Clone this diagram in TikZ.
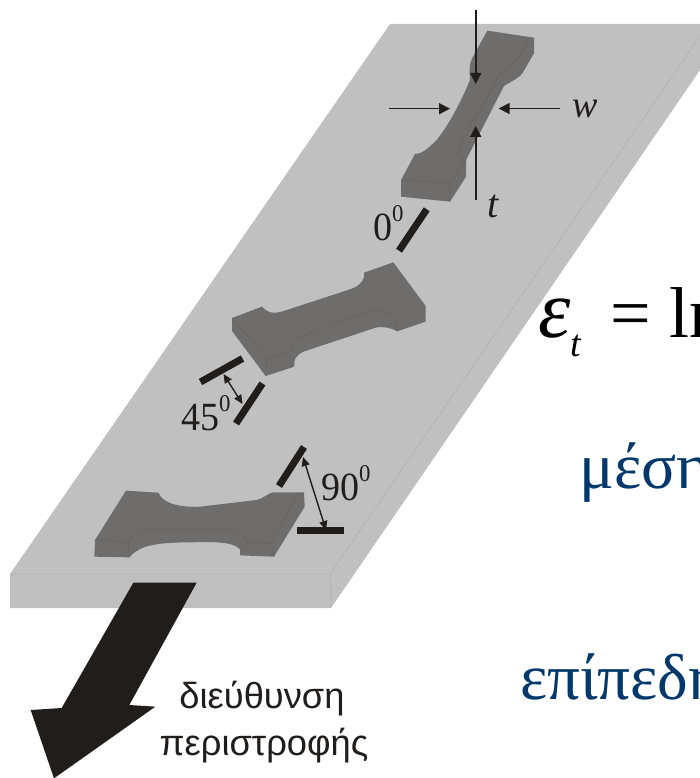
\documentclass[tikz,border=0pt]{standalone}
\usepackage{fontspec}
\setmainfont{Liberation Serif}
\newfontfamily\sansgr{Liberation Sans}
\usetikzlibrary{arrows.meta}
\definecolor{plate}{RGB}{192,192,192}
\definecolor{plateline}{RGB}{176,176,176}
\definecolor{spec}{RGB}{110,109,107}
\definecolor{specline}{RGB}{98,97,95}
\definecolor{ink}{RGB}{33,29,27}
\definecolor{navy}{RGB}{0,56,107}
\tikzset{
  platebody/.style={fill=plate,draw=none},
  plateedge/.style={draw=plateline,line width=0.5pt},
  specbody/.style={fill=spec,draw=none},
  specedge/.style={draw=specline,line width=0.4pt},
  bar/.style={draw=ink,line width=7pt},
  dimarrow/.style={draw=ink,line width=1.6pt,-{Triangle[length=11pt,width=11pt]}},
  twoway/.style={draw=ink,line width=1.4pt,{Triangle[length=9pt,width=8pt]}-{Triangle[length=9pt,width=8pt]}},
  serifl/.style={inner sep=0pt,anchor=base west,text=ink},
  numl/.style={inner sep=0pt,anchor=base west,text=ink,xscale=0.95,font=\fontsize{40}{40}\selectfont},
  navyl/.style={inner sep=0pt,anchor=base west,text=navy,font=\fontsize{65}{65}\selectfont},
  sansl/.style={inner sep=0pt,anchor=base,text=ink,font=\sansgr\fontsize{36.3}{36.3}\selectfont},
  zone/.style={x=0.33333pt,y=-0.33333pt}
}
\newcommand{\supzero}{\raisebox{19pt}{\fontsize{24}{24}\selectfont 0}}
\begin{document}
\begin{tikzpicture}[x=1pt,y=-1pt]
\useasboundingbox (0,0) rectangle (700,778);
\fill[white] (0,0) rectangle (700,778);
% plate
\path[platebody] (390,24) -- (700,24) -- (700,70) -- (331,608) -- (10,608) -- (10,574) -- cycle;
\draw[plateedge] (10,574) -- (330,574) -- (700,36);
\draw[plateedge] (330,574) -- (331,608);
% specimen 1
\begin{scope}[shift={(360pt,0pt)},zone]
\path[specbody] (382,92) -- (522,113) -- (522,160) -- (490,215) .. controls (478,235) and (460,240) .. (432,258)
  -- (318,480) -- (318,530) -- (270,605) -- (123,590) -- (123,540) -- (165,462)
  .. controls (180,462) and (195,455) .. (230,420) .. controls (270,370) and (305,300) .. (330,240)
  .. controls (328,215) and (328,190) .. (336,175) -- cycle;
\draw[specedge] (502,113) .. controls (500,150) and (470,185) .. (430,212) .. controls (410,228) and (405,250) .. (395,272)
  -- (345,350) .. controls (320,395) and (300,430) .. (292,462) -- (316,485);
\draw[specedge] (123,540) -- (268,550) -- (270,605);
\draw[specedge] (268,550) -- (318,480);
\end{scope}
% specimen 2
\begin{scope}[shift={(170pt,-250pt)},zone]
\path[specbody] (186,204) -- (276,170) .. controls (295,192) and (315,190) .. (335,185) -- (540,118)
  .. controls (570,108) and (585,90) .. (582,68) -- (670,37) -- (767,168) -- (767,215) -- (682,244)
  .. controls (660,232) and (640,230) .. (620,232) -- (400,305) .. controls (378,316) and (370,330) .. (373,350)
  -- (287,378) -- (186,243) -- cycle;
\draw[specedge] (186,204) -- (290,325) -- (287,378);
\draw[specedge] (290,325) -- (360,303) .. controls (370,270) and (385,262) .. (405,255) -- (600,182)
  .. controls (650,178) and (688,195) .. (682,244);
\end{scope}
% specimen 3
\begin{scope}[shift={(0pt,-450pt)},zone]
\path[specbody] (378,122) -- (475,128) .. controls (490,165) and (550,172) .. (600,170) -- (770,150)
  .. controls (790,145) and (805,130) .. (818,127) -- (912,127) -- (914,170) -- (822,320) -- (720,316) -- (720,298)
  .. controls (700,275) and (640,275) .. (580,277) .. controls (470,277) and (420,285) .. (388,322)
  -- (283,320) -- (285,270) -- cycle;
\draw[specedge] (285,270) -- (385,277) .. controls (395,255) and (415,240) .. (440,238) -- (690,238)
  .. controls (720,243) and (735,260) .. (740,278) -- (812,280) -- (822,320);
\draw[specedge] (812,280) -- (898,127);
\draw[specedge] (385,277) -- (388,322);
\draw[specedge] (740,278) -- (720,298);
\end{scope}
% dimension arrows of specimen 1
\coordinate (tA) at (475.7,10);
\coordinate (tB) at (475.7,84);
\coordinate (tC) at (475.7,200);
\coordinate (tD) at (475.7,126);
\coordinate (wA) at (388.7,108.7);
\coordinate (wB) at (450,108.7);
\coordinate (wC) at (560,108.5);
\coordinate (wD) at (498.7,108.5);
\draw[dimarrow] (tA) -- (tB);
\draw[dimarrow] (tC) -- (tD);
\draw[dimarrow] (wA) -- (wB);
\draw[dimarrow] (wC) -- (wD);
% angle bars
\draw[bar] (426.7,209.3) -- (399,250.7);
\draw[bar] (242.5,358.5) -- (200.5,382);
\draw[bar] (262.5,383.5) -- (236,423.5);
\draw[bar] (304,447) -- (279,486);
\draw[bar] (297,530) -- (344,530);
\coordinate (aA) at (223.5,374);
\coordinate (aB) at (242.5,404);
\coordinate (bA) at (303,457);
\coordinate (bB) at (326,530);
\draw[twoway] (aA) -- (aB);
\draw[twoway] (bA) -- (bB);
% rotation arrow
\begin{scope}[shift={(0pt,-580pt)},zone]
\fill[ink] (400,8) -- (590,8) -- (388,375) -- (466,380) -- (162,595) -- (92,390) -- (185,384) -- cycle;
\end{scope}
% labels
\node[serifl,font=\fontsize{38}{38}\selectfont\itshape] (lw) at (572,118) {w};
\node[serifl,font=\fontsize{40}{40}\selectfont\itshape] (lt) at (487,217) {t};
\node[numl] (l0) at (373,240) {0\supzero};
\node[numl] (l45) at (181,430) {45\supzero};
\node[numl] (l90) at (321,500) {90\supzero};
\node[sansl] (dir1) at (262,708) {διεύθυνση};
\node[sansl] (dir2) at (264,755) {περιστροφής};
\node[inner sep=0pt,anchor=base west,text=black,font=\fontsize{72}{72}\selectfont] (eq) at (538,337) {{\fontsize{82}{82}\selectfont\textit{ε}}\raisebox{-19pt}{\fontsize{38}{38}\selectfont\textit{t}}\hspace{29pt}= ln};
\node[navyl] (mean) at (579,488) {μέση};
\node[navyl] (plane) at (520,699) {επίπεδη};
\end{tikzpicture}
\end{document}
